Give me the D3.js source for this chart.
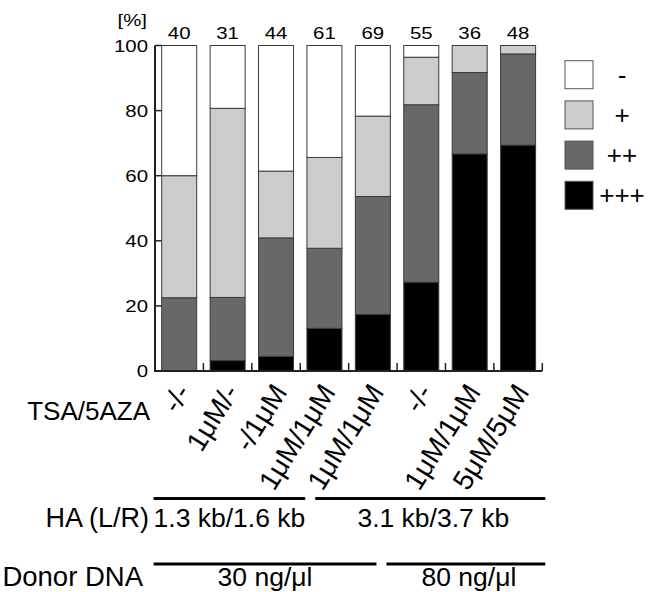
<!DOCTYPE html>
<html>
<head>
<meta charset="utf-8">
<script src="https://cdn.jsdelivr.net/npm/d3@7"></script>
<style>
  body { margin: 0; background: #fff; }
  svg { display: block; font-family: "Liberation Sans", Arial, sans-serif; }
</style>
</head>
<body>
<div id="chart"></div>
<script>
// treatment (TSA/5AZA) per bar and number of embryos scored
const categories = ["-/-", "1μM/-", "-/1μM", "1μM/1μM", "1μM/1μM", "-/-", "1μM/1μM", "5μM/5μM"];
const counts = [40, 31, 44, 61, 69, 55, 36, 48];

// percentages per phenotype class, bottom to top
const levels = ["+++", "++", "+", "-"];
const pctPlus3 = [0, 3.2, 4.5, 13.1, 17.4, 27.3, 66.7, 69.4];
const pctPlus2 = [22.5, 19.4, 36.4, 24.6, 36.2, 54.5, 25.0, 28.0];
const pctPlus1 = [37.5, 58.1, 20.5, 27.9, 24.7, 14.6, 8.3, 2.6];
const pctMinus = [40.0, 19.3, 38.6, 34.4, 21.7, 3.6, 0, 0];

const yTicks = [0, 20, 40, 60, 80, 100];

// bottom annotation rows: labels and which bars they cover
const haLabels = ["1.3 kb/1.6 kb", "3.1 kb/3.7 kb"];
const haSpans = [[0, 2], [3, 7]];
const donorLabels = ["30 ng/μl", "80 ng/μl"];
const donorSpans = [[0, 4], [5, 7]];

const width = 649, height = 592;

const svg = d3.select("#chart").append("svg")
  .attr("width", width)
  .attr("height", height);

const x = d3.scaleBand()
  .domain(d3.range(categories.length))
  .range([155, 542.3]);

const y = d3.scaleLinear()
  .domain([0, 100])
  .range([371, 45.5]);

const barW = x.bandwidth() * 0.723;
const inset = (x.bandwidth() - barW) / 2;

const fill = d3.scaleOrdinal()
  .domain(levels)
  .range(["#000000", "#686868", "#cccccc", "#ffffff"]);

const rows = categories.map((c, i) => ({
  i,
  "+++": pctPlus3[i],
  "++": pctPlus2[i],
  "+": pctPlus1[i],
  "-": pctMinus[i],
}));

const stacked = d3.stack().keys(levels)(rows);

// bars
svg.append("g")
  .selectAll("g")
  .data(stacked)
  .join("g")
  .attr("fill", (d) => fill(d.key))
  .selectAll("rect")
  .data((d) => d.filter((s) => s[1] > s[0]))
  .join("rect")
  .attr("x", (d) => x(d.data.i) + inset)
  .attr("y", (d) => y(d[1]))
  .attr("width", barW)
  .attr("height", (d) => y(d[0]) - y(d[1]))
  .attr("stroke", "#3a3a3a")
  .attr("stroke-width", 1);

// axes
const axis = svg.append("g").attr("stroke", "#222").attr("fill", "none");
axis.append("path")
  .attr("d", `M${x.range()[0]},${y(100)}V${y(0)}H${x.range()[1]}`)
  .attr("stroke-width", 2);

yTicks.forEach((t) => {
  axis.append("line")
    .attr("x1", x.range()[0]).attr("x2", x.range()[0] + 6.5)
    .attr("y1", y(t)).attr("y2", y(t))
    .attr("stroke-width", 1.5);
});

d3.range(1, categories.length + 1).forEach((i) => {
  const xx = x.range()[0] + i * x.step();
  axis.append("line")
    .attr("x1", xx).attr("x2", xx)
    .attr("y1", y(0)).attr("y2", y(0) - 8)
    .attr("stroke-width", 1.5);
});

// small labels are drawn a bit wider, like the source figure
const small = svg.append("g").style("font-size", "17px").attr("fill", "#000");

small.selectAll(".ylab")
  .data(yTicks)
  .join("text")
  .attr("class", "ylab")
  .attr("text-anchor", "end")
  .attr("transform", (d) => `translate(148,${y(d) + 6}) scale(1.2,1)`)
  .text((d) => d);

small.append("text")
  .attr("text-anchor", "end")
  .attr("transform", "translate(147,26) scale(1.2,1)")
  .text("[%]");

small.selectAll(".count")
  .data(counts)
  .join("text")
  .attr("class", "count")
  .attr("text-anchor", "middle")
  .attr("transform", (d, i) => `translate(${x(i) + x.bandwidth() / 2},39) scale(1.2,1)`)
  .text((d) => d);

// legend
const legendOrder = levels.slice().reverse();
const legend = svg.append("g");
legendOrder.forEach((k, j) => {
  const ly = 60.7 + j * 40.2;
  legend.append("rect")
    .attr("x", 565).attr("y", ly)
    .attr("width", 28).attr("height", 28)
    .attr("fill", fill(k))
    .attr("stroke", "#555")
    .attr("stroke-width", 1);
  legend.append("text")
    .attr("x", 622).attr("y", ly + 14 + 9)
    .attr("text-anchor", "middle")
    .style("font-size", "26px")
    .text(k);
});

// treatment labels
svg.append("text")
  .attr("x", 150).attr("y", 420)
  .attr("text-anchor", "end")
  .style("font-size", "26px")
  .text("TSA/5AZA");

svg.selectAll(".cat")
  .data(categories)
  .join("text")
  .attr("class", "cat")
  .attr("text-anchor", "end")
  .style("font-size", "28px")
  .attr("transform", (d, i) => `translate(${x(i) + x.bandwidth() / 2 + 12},392) rotate(-58)`)
  .text((d) => d);

// annotation rows with bracket lines
const drawRow = (labels, spans, lineY, textY, gapShift) => {
  const start = x.range()[0] - 1.4;
  const end = x.range()[1] + 3;
  const boundary = x(spans[1][0]) + gapShift;
  const segs = [[start, boundary - 5], [boundary + 5, end]];
  segs.forEach((s, j) => {
    svg.append("line")
      .attr("x1", s[0]).attr("x2", s[1])
      .attr("y1", lineY).attr("y2", lineY)
      .attr("stroke", "#000")
      .attr("stroke-width", 3);
    svg.append("text")
      .attr("x", (s[0] + s[1]) / 2 + (j === 1 ? 3 : 0))
      .attr("y", textY)
      .attr("text-anchor", "middle")
      .style("font-size", "26.5px")
      .text(labels[j]);
  });
};

drawRow(haLabels, haSpans, 498.6, 527, 10);
drawRow(donorLabels, donorSpans, 563.9, 586, -15.6);

svg.append("text")
  .attr("x", 149).attr("y", 527)
  .attr("text-anchor", "end")
  .style("font-size", "27px")
  .text("HA (L/R)");

svg.append("text")
  .attr("x", 143).attr("y", 586)
  .attr("text-anchor", "end")
  .style("font-size", "27.5px")
  .text("Donor DNA");
</script>
</body>
</html>
